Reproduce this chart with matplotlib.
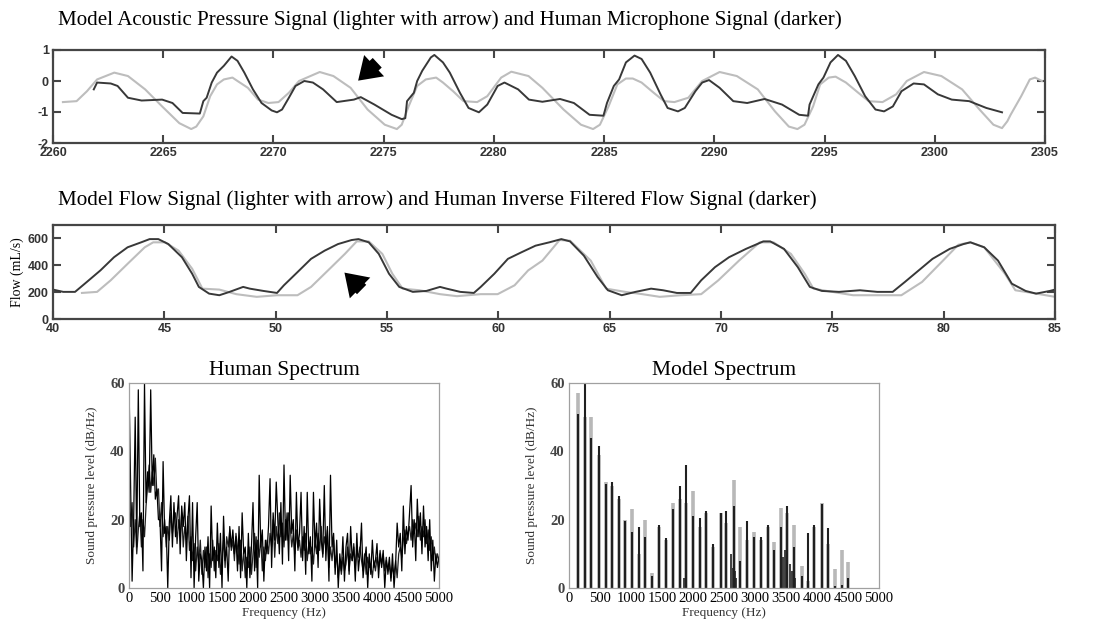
import numpy as np
import matplotlib
matplotlib.use("Agg")
import matplotlib.pyplot as plt
from matplotlib.patches import FancyArrowPatch

plt.rcParams["axes.unicode_minus"] = False

# acoustic pressure: human microphone (dark) and model (light), time in ms
mic_t = [2261.85, 2262.0, 2262.62, 2262.93, 2263.4, 2264.02, 2264.95, 2265.42, 2265.88, 2266.66,
         2266.82, 2266.97, 2267.2, 2267.44, 2267.75, 2268.1, 2268.37, 2268.68, 2269.07, 2269.46,
         2269.92, 2270.16, 2270.39, 2270.7, 2271.0, 2271.4, 2271.79, 2272.25, 2272.87, 2273.65,
         2273.96, 2274.58, 2275.36, 2275.82, 2275.98, 2276.06, 2276.37, 2276.52, 2276.75, 2277.14,
         2277.3, 2277.69, 2278.0, 2278.46, 2278.85, 2279.32, 2279.7, 2280.17, 2280.48, 2281.1,
         2281.59, 2282.2, 2283.0, 2283.63, 2284.34, 2284.97, 2285.13, 2285.44, 2285.68, 2285.99,
         2286.38, 2286.7, 2287.09, 2287.56, 2287.88, 2288.35, 2288.66, 2289.14, 2289.45, 2289.76,
         2290.24, 2290.86, 2291.49, 2292.28, 2293.07, 2293.85, 2294.25, 2294.32, 2294.72, 2294.95,
         2295.27, 2295.61, 2295.97, 2296.37, 2296.84, 2297.31, 2297.7, 2298.1, 2298.49, 2299.04,
         2299.51, 2300.14, 2300.77, 2301.56, 2302.34, 2303.05]
mic_p = [-0.27, -0.05, -0.08, -0.16, -0.54, -0.63, -0.6, -0.71, -1.03, -1.05,
         -0.65, -0.54, -0.05, 0.27, 0.49, 0.79, 0.65, 0.27, -0.27, -0.71,
         -0.95, -1.01, -0.92, -0.54, -0.16, 0.0, -0.05, -0.27, -0.68, -0.6,
         -0.52, -0.76, -1.09, -1.23, -1.2, -0.65, -0.38, 0.0, 0.33, 0.76,
         0.84, 0.6, 0.27, -0.38, -0.87, -1.01, -0.76, -0.16, -0.05, -0.27,
         -0.6, -0.67, -0.58, -0.71, -1.09, -1.12, -0.71, -0.16, 0.05, 0.6,
         0.82, 0.71, 0.27, -0.43, -0.87, -0.98, -0.87, -0.33, -0.05, 0.03,
         -0.22, -0.65, -0.71, -0.58, -0.76, -1.09, -1.12, -0.76, -0.11, 0.11,
         0.6, 0.84, 0.65, 0.16, -0.49, -0.92, -0.98, -0.82, -0.33, -0.08,
         -0.11, -0.43, -0.6, -0.65, -0.87, -1.01]

model_t = [2260.45, 2261.07, 2261.54, 2262.0, 2262.78, 2263.4, 2264.18, 2264.95, 2265.73, 2266.27,
           2266.5, 2266.82, 2267.13, 2267.44, 2267.75, 2268.14, 2268.37, 2268.84, 2269.3, 2269.77,
           2270.23, 2270.7, 2271.16, 2272.1, 2272.72, 2273.5, 2274.27, 2275.05, 2275.6, 2275.82,
           2276.13, 2276.52, 2276.91, 2277.38, 2277.69, 2278.15, 2278.62, 2279.24, 2279.7, 2280.33,
           2280.79, 2281.57, 2282.2, 2283.16, 2283.95, 2284.5, 2284.81, 2285.2, 2285.6, 2285.99,
           2286.3, 2286.7, 2287.25, 2287.72, 2288.19, 2288.82, 2289.45, 2290.24, 2291.02, 2291.97,
           2292.75, 2293.38, 2293.77, 2294.09, 2294.48, 2294.8, 2295.19, 2295.5, 2295.97, 2296.53,
           2297.0, 2297.63, 2298.25, 2298.73, 2299.51, 2300.3, 2301.24, 2302.03, 2302.66, 2303.05,
           2303.29, 2303.44, 2303.92, 2304.31, 2304.55, 2304.86]
model_p = [-0.68, -0.65, -0.33, 0.05, 0.27, 0.16, -0.27, -0.82, -1.36, -1.55,
           -1.47, -1.14, -0.49, -0.11, 0.05, 0.11, 0.0, -0.22, -0.6, -0.71,
           -0.68, -0.38, 0.0, 0.29, 0.16, -0.22, -0.92, -1.41, -1.55, -1.41,
           -0.82, -0.16, 0.05, 0.11, -0.05, -0.33, -0.65, -0.68, -0.49, 0.11,
           0.3, 0.16, -0.22, -0.92, -1.41, -1.55, -1.41, -0.82, -0.11, 0.08,
           0.08, -0.05, -0.38, -0.65, -0.68, -0.54, 0.0, 0.29, 0.16, -0.27,
           -0.98, -1.47, -1.55, -1.41, -0.82, -0.11, 0.11, 0.14, -0.05, -0.38,
           -0.65, -0.68, -0.43, 0.0, 0.29, 0.16, -0.27, -0.92, -1.41, -1.52,
           -1.3, -1.09, -0.49, 0.05, 0.11, 0.0]

# glottal flow: inverse filtered human (dark) and model (light), mL/s
inv_t = [40.0, 40.46, 40.99, 41.52, 42.13, 42.74, 43.35, 43.96, 44.34, 44.73,
         45.18, 45.79, 46.25, 46.55, 47.01, 47.47, 47.93, 48.54, 48.84, 49.45,
         50.06, 50.37, 50.98, 51.59, 52.2, 52.8, 53.41, 53.72, 54.18, 54.63,
         55.09, 55.55, 56.16, 56.77, 57.38, 57.68, 58.29, 58.9, 59.21, 59.82,
         60.43, 61.04, 61.67, 62.29, 62.83, 63.22, 63.84, 64.46, 64.92, 65.54,
         66.16, 66.86, 67.4, 68.02, 68.64, 69.11, 69.73, 70.36, 71.12, 71.9,
         72.21, 72.83, 73.45, 73.99, 74.53, 75.3, 76.24, 77.02, 77.71, 78.26,
         78.88, 79.5, 80.27, 80.89, 81.2, 81.82, 82.44, 83.06, 83.68, 84.15,
         84.77, 85.0]
inv_flow = [219, 202, 202, 276, 362, 460, 534, 571, 595, 595,
            558, 460, 337, 239, 189, 177, 202, 239, 226, 209,
            194, 251, 349, 448, 509, 558, 588, 595, 571, 485,
            337, 239, 202, 209, 239, 226, 202, 194, 239, 337,
            448, 497, 546, 571, 595, 578, 472, 312, 214, 177,
            202, 226, 214, 194, 194, 288, 386, 460, 522, 578,
            578, 522, 386, 239, 209, 202, 214, 202, 202, 276,
            362, 448, 522, 558, 571, 534, 435, 263, 209, 189,
            209, 219]

mflow_t = [41.3, 41.98, 42.59, 43.35, 44.12, 44.5, 45.03, 45.64, 46.25, 46.71,
           47.47, 48.23, 49.15, 50.06, 50.98, 51.59, 52.5, 53.11, 53.64, 54.18,
           54.79, 55.24, 55.7, 56.46, 57.38, 58.14, 59.21, 59.97, 60.73, 61.34,
           61.98, 62.75, 63.22, 64.15, 64.84, 65.7, 66.47, 67.25, 68.18, 69.11,
           69.88, 70.81, 71.74, 72.36, 73.14, 73.76, 74.15, 75.0, 75.93, 76.86,
           78.1, 79.03, 79.97, 80.66, 81.2, 81.82, 82.75, 83.22, 83.99, 85.0]
mflow = [194, 202, 288, 411, 534, 571, 571, 509, 374, 226,
         219, 185, 165, 177, 177, 239, 386, 485, 578, 578,
         485, 337, 226, 214, 185, 170, 185, 185, 251, 362,
         435, 588, 583, 435, 226, 202, 185, 165, 177, 185,
         288, 435, 571, 571, 485, 337, 226, 202, 177, 177,
         177, 276, 435, 553, 571, 534, 337, 214, 194, 165]

# human spectrum, peaks and fill level every 25 Hz from 0 to 5000 Hz (dB/Hz)
human_spl = [60, 32, 2, 20, 50, 12, 58, 18, 22, 5,
             60, 25, 34, 28, 58, 30, 39, 26, 29, 20,
             20, 5, 37, 16, 18, 0, 19, 27, 12, 25,
             15, 21, 27, 10, 24, 18, 25, 8, 20, 27,
             3, 25, 0, 15, 25, 2, 10, 8, 0, 12,
             5, 15, 0, 24, 8, 12, 3, 19, 6, 16,
             0, 21, 8, 12, 2, 18, 12, 17, 10, 15,
             5, 18, 3, 22, 10, 12, 0, 16, 3, 12,
             25, 5, 15, 0, 33, 12, 17, 2, 14, 10,
             18, 32, 6, 22, 14, 31, 20, 10, 25, 7,
             36, 14, 22, 8, 33, 16, 20, 5, 28, 12,
             16, 28, 8, 18, 4, 28, 10, 15, 2, 28,
             12, 19, 6, 26, 14, 10, 30, 8, 18, 2,
             33, 12, 16, 4, 14, 0, 10, 5, 15, 2,
             12, 16, 4, 18, 8, 12, 2, 16, 5, 10,
             19, 3, 8, 12, 0, 10, 4, 14, 6, 8,
             13, 3, 10, 6, 11, 0, 8, 5, 9, 2,
             10, 0, 7, 19, 12, 16, 5, 24, 10, 18,
             14, 22, 30, 12, 20, 8, 26, 15, 22, 10,
             24, 12, 18, 8, 20, 5, 14, 2, 10, 6,
             9]
human_fill = [30, 18, 25, 12, 20, 10, 17, 22, 12, 20,
              15, 24, 30, 36, 28, 34, 30, 38, 27, 29,
              18, 25, 15, 20, 12, 18, 14, 22, 16, 20,
              22, 13, 20, 15, 22, 12, 18, 14, 21, 11,
              15, 8, 13, 5, 12, 7, 14, 4, 11, 6,
              12, 3, 10, 6, 14, 5, 11, 8, 13, 4,
              9, 14, 6, 15, 12, 17, 11, 14, 8, 16,
              12, 7, 14, 5, 11, 3, 9, 6, 12, 4,
              10, 16, 6, 14, 9, 15, 5, 12, 8, 14,
              10, 16, 12, 20, 9, 18, 13, 22, 15, 19,
              12, 20, 14, 22, 18, 12, 16, 10, 17, 11,
              14, 9, 15, 11, 16, 8, 13, 10, 12, 7,
              14, 10, 16, 11, 18, 9, 15, 12, 17, 6,
              12, 8, 14, 6, 10, 3, 8, 4, 9, 5,
              7, 12, 5, 10, 8, 13, 6, 11, 9, 12,
              8, 5, 10, 4, 9, 6, 7, 3, 8, 5,
              9, 6, 11, 7, 10, 5, 9, 4, 7, 3,
              6, 4, 8, 3, 10, 12, 9, 14, 17, 13,
              16, 18, 14, 20, 16, 19, 15, 21, 14, 18,
              15, 20, 13, 17, 11, 15, 8, 12, 7, 10,
              8]
human_hz = np.arange(0, 5001, 25)

# model spectrum harmonics
model_hz = [145, 253, 360, 479, 592, 694, 802, 909, 1022, 1130,
            1230, 1345, 1453, 1560, 1674, 1787, 1894, 2002, 2110, 2217,
            2325, 2444, 2540, 2664, 2766, 2874, 2987, 3090, 3202, 3305,
            3418, 3520, 3628, 3752, 3848, 3956, 4074, 4182, 4290, 4397,
            4505]
model_dark = [51, 60, 44, 41.5, 30.5, 31, 27, 19.5, 16.5, 18,
              15, 3.5, 18.5, 14.5, 23, 30, 36, 21, 20.5, 22.5,
              13, 22, 22.5, 24, 8, 19.5, 15, 15, 18.5, 11,
              18, 24, 12, 3.5, 16, 18.5, 24.5, 17.5, 0.5, 1,
              3]
model_light = [57, 50, 50, 39, 31, 30, 26, 20, 23, 10,
               20, 4.5, 18, 14, 25, 26, 25, 28.5, 18, 22,
               12, 22, 19, 31.5, 18, 14, 16.5, 14, 18, 13.5,
               23.5, 22, 18.5, 6.5, 2, 18, 25, 13, 5.5, 11,
               7.5]
# small inharmonic components
extra_hz = [1850, 1880, 2620, 2645, 2670, 2690, 3450, 3480, 3560, 3590, 3650]
extra_spl = [3, 4, 10, 6, 5, 3, 9, 11, 7, 5, 3]

W, H = 1098, 625
fig = plt.figure(figsize=(W / 100, H / 100), dpi=100)
fig.patch.set_facecolor("white")

serif = "Liberation Serif"
sans = "Liberation Sans"
dark = "#383838"
light = "#bdbdbd"


def ax_box(left, top, right, bottom):
    return [left / W, 1 - bottom / H, (right - left) / W, (bottom - top) / H]


def style_signal_axes(ax):
    for s in ax.spines.values():
        s.set_color("#454545")
        s.set_linewidth(1.6)
    ax.tick_params(direction="in", length=6, width=1.5, color="#454545",
                   top=True, right=True, labelsize=9, labelcolor="#333333", pad=3)
    for lab in ax.get_xticklabels() + ax.get_yticklabels():
        lab.set_fontfamily(sans)
        lab.set_fontweight("bold")


def add_arrow(ax, tail, tip):
    arr = FancyArrowPatch(tail, tip, arrowstyle="simple,head_length=0.75,head_width=1.0,tail_width=0.45",
                          mutation_scale=21, color="black", lw=0)
    ax.add_patch(arr)


# --- acoustic pressure panel
fig.text(58 / W, 1 - 20 / H,
         "Model Acoustic Pressure Signal (lighter with arrow) and Human Microphone Signal (darker)",
         family=serif, fontsize=15.1, va="center", ha="left")
ax1 = fig.add_axes(ax_box(53, 50, 1045, 143))
ax1.plot(model_t, model_p, color=light, lw=1.5)
ax1.plot(mic_t, mic_p, color=dark, lw=1.4)
ax1.set_xlim(2260, 2305)
ax1.set_ylim(-2, 1)
ax1.set_xticks(np.arange(2260, 2306, 5))
ax1.set_yticks([-2, -1, 0, 1])
style_signal_axes(ax1)
add_arrow(ax1, (2274.8, 0.65), (2273.75, -0.05))

# --- flow panel
fig.text(58 / W, 1 - 200 / H,
         "Model Flow Signal (lighter with arrow) and Human Inverse Filtered Flow Signal (darker)",
         family=serif, fontsize=15.2, va="center", ha="left")
ax2 = fig.add_axes(ax_box(53, 225, 1055, 319))
ax2.plot(mflow_t, mflow, color=light, lw=1.5)
ax2.plot(inv_t, inv_flow, color=dark, lw=1.4)
ax2.set_xlim(40, 85)
ax2.set_ylim(0, 700)
ax2.set_xticks(np.arange(40, 86, 5))
ax2.set_yticks([0, 200, 400, 600])
ax2.set_ylabel("Flow (mL/s)", family=serif, fontsize=10, labelpad=3)
style_signal_axes(ax2)
add_arrow(ax2, (53.95, 205), (53.0, 360))


def style_spectrum_axes(ax, title):
    ax.set_xlim(0, 5000)
    ax.set_ylim(0, 60)
    ax.set_xticks(np.arange(0, 5001, 500))
    ax.set_yticks([0, 20, 40, 60])
    for s in ax.spines.values():
        s.set_color("#a0a0a0")
        s.set_linewidth(0.9)
    ax.tick_params(length=0, labelsize=10.5, pad=3)
    for lab in ax.get_xticklabels() + ax.get_yticklabels():
        lab.set_fontfamily(serif)
    for lab in ax.get_yticklabels():
        lab.set_fontweight("bold")
        lab.set_color("#444444")
    ax.set_title(title, family=serif, fontsize=15.5, pad=6)
    ax.set_xlabel("Frequency (Hz)", family=serif, fontsize=9.5, color="#333333", labelpad=1)
    ax.set_ylabel("Sound pressure level (dB/Hz)", family=serif, fontsize=9.5, color="#333333", labelpad=9)


# --- human spectrum
ax3 = fig.add_axes(ax_box(129, 383, 439, 588))
ax3.plot(human_hz, human_fill, color="#202020", lw=0.9)
ax3.plot(human_hz, human_spl, color="black", lw=0.9)
style_spectrum_axes(ax3, "Human Spectrum")

# --- model spectrum
ax4 = fig.add_axes(ax_box(569, 383, 879, 588))
ax4.vlines(model_hz, 0, model_light, color="#b8b8b8", lw=2.6)
ax4.vlines(model_hz, 0, model_dark, color="#202020", lw=1.5)
ax4.vlines(extra_hz, 0, extra_spl, color="#202020", lw=1.2)
style_spectrum_axes(ax4, "Model Spectrum")

fig.savefig("out.png", dpi=100, facecolor="white")
